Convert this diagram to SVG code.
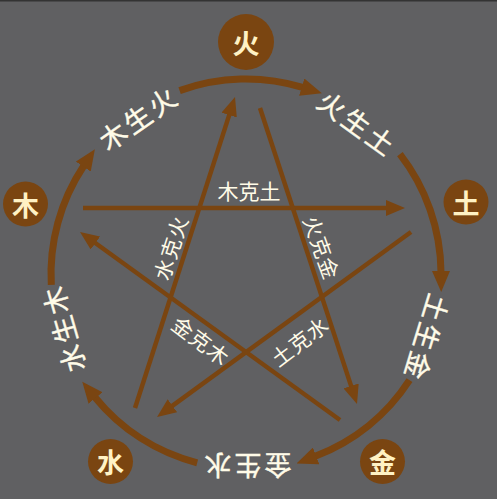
<svg xmlns="http://www.w3.org/2000/svg" width="497" height="499" viewBox="0 0 497 499">
<defs>
<style>
.ring{fill:none;stroke:#7a4511;stroke-width:7}
.star{fill:none;stroke:#7a4511;stroke-width:4.5}
.node circle{fill:#7a4511}
.node text{font-family:"Noto Sans CJK SC","Noto Sans CJK JP",sans-serif;font-weight:bold;font-size:27px;fill:#fff2c4;text-anchor:middle;dominant-baseline:central}
.rl{font-family:"Noto Sans CJK SC","Noto Sans CJK JP",sans-serif;font-size:27px;fill:#fffbe8;text-anchor:middle;dominant-baseline:central;stroke:#fffbe8;stroke-width:0.4}
.sl{font-family:"Noto Sans CJK SC","Noto Sans CJK JP",sans-serif;font-size:21px;fill:#fffbe8;text-anchor:middle;dominant-baseline:central}
</style>
<marker id="ra" markerUnits="userSpaceOnUse" viewBox="0 0 21 18" markerWidth="21" markerHeight="18" refX="1" refY="9" orient="auto"><path d="M0,0 L21,9 L0,18 z" fill="#7a4511"/></marker>
<marker id="sa" markerUnits="userSpaceOnUse" viewBox="0 0 19 16" markerWidth="19" markerHeight="16" refX="1" refY="8" orient="auto"><path d="M0,0 L19,8 L0,16 z" fill="#7a4511"/></marker>
</defs>
<rect x="0" y="0" width="497" height="499" fill="#606062"/>
<rect x="0" y="0" width="497" height="1.5" fill="#333333"/>
<g id="connectors">
<path class="ring" d="M51.3,284.9 A195,195 0 0 1 83.8,165.8" marker-end="url(#ra)"/>
<path class="ring" d="M179.6,90.6 A195,195 0 0 1 302.7,87.4" marker-end="url(#ra)"/>
<path class="ring" d="M399.9,154.2 A195,195 0 0 1 441,272" marker-end="url(#ra)"/>
<path class="ring" d="M409.5,380.2 A195,195 0 0 1 315.2,456.3" marker-end="url(#ra)"/>
<path class="ring" d="M197.2,462.8 A195,195 0 0 1 94.9,397.2" marker-end="url(#ra)"/>
<path class="star" d="M83,208 L387,208" marker-end="url(#sa)"/>
<path class="star" d="M135,408 L229.5,114.1" marker-end="url(#sa)"/>
<path class="star" d="M260,108 L351.4,386.9" marker-end="url(#sa)"/>
<path class="star" d="M411,232 L171.6,406.4" marker-end="url(#sa)"/>
<path class="star" d="M340,420 L94.6,242.5" marker-end="url(#sa)"/>
</g>
<g id="labels">
<text class="rl" transform="translate(137,118) rotate(-35)" x="-30 0 30" y="0">木生火</text>
<text class="rl" transform="translate(357,122) rotate(36)" x="-30 0 30" y="0">火生土</text>
<text class="rl" transform="translate(428,337) rotate(107)" x="-30 0 30" y="0">土生金</text>
<text class="rl" transform="translate(248,466) rotate(180)" x="-30 0 30" y="0">金生水</text>
<text class="rl" transform="translate(63,330) rotate(-106)" x="-30 0 30" y="0">水生木</text>
<text class="sl" transform="translate(249,190)" x="-21 0 21" y="0">木克土</text>
<text class="sl" transform="translate(170,248) rotate(-72)" x="-22 0 22" y="0">水克火</text>
<text class="sl" transform="translate(322,247) rotate(70)" x="-22 0 22" y="0">火克金</text>
<text class="sl" transform="translate(201,340) rotate(37)" x="-22 0 22" y="0">金克木</text>
<text class="sl" transform="translate(299,341) rotate(-37)" x="-22 0 22" y="0">土克水</text>
</g>
<g id="node-fire" class="node"><circle cx="246" cy="42" r="28"/><text x="246" y="42">火</text></g>
<g id="node-earth" class="node"><circle cx="466" cy="202" r="22.5"/><text x="466" y="202">土</text></g>
<g id="node-metal" class="node"><circle cx="382.5" cy="461.5" r="22.5"/><text x="382.5" y="461.5">金</text></g>
<g id="node-water" class="node"><circle cx="110.5" cy="461.5" r="22.5"/><text x="110.5" y="461.5">水</text></g>
<g id="node-wood" class="node"><circle cx="25.5" cy="204" r="22.5"/><text x="25.5" y="204">木</text></g>
</svg>
